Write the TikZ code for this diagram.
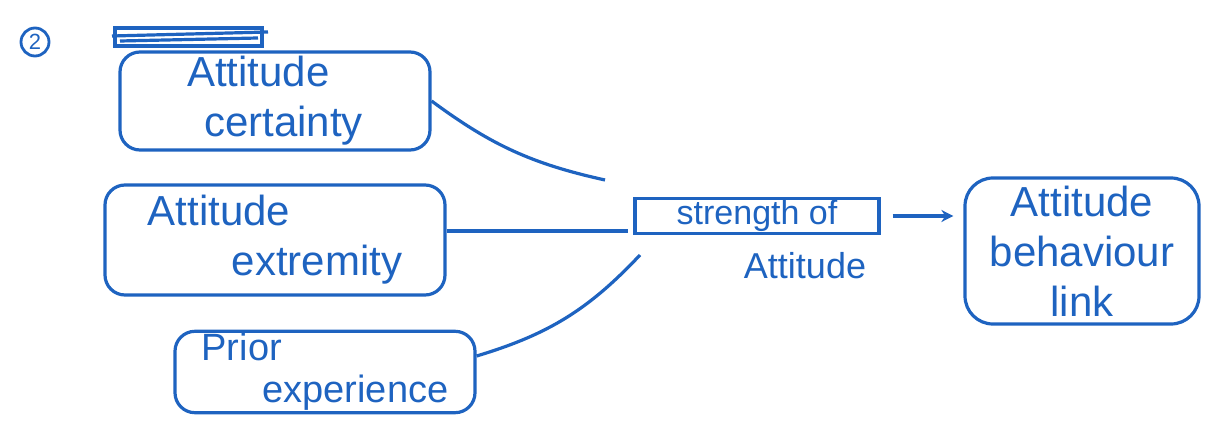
\documentclass[tikz,border=0pt]{standalone}
\usepackage{fontspec}
\setmainfont{Liberation Sans}
\usetikzlibrary{positioning,arrows.meta,shapes.geometric}
\definecolor{ink}{HTML}{1E63C0}
\tikzset{
  >=Stealth,
  every node/.style={text=ink},
  % --- nodes
  factor/.style = {draw=ink, line width=1.6pt, rounded corners=10pt, align=left,
                   inner sep=2pt, font=\fontsize{21}{25}\selectfont},
  target/.style = {factor, align=center, rounded corners=14pt},
  strbox/.style = {draw=ink, line width=1.6pt, inner sep=1pt,
                   font=\fontsize{17}{18}\selectfont},
  lbl/.style    = {font=\fontsize{18}{20}\selectfont},
  num/.style    = {circle, draw=ink, line width=1.4pt, inner sep=1pt,
                   minimum size=14pt, font=\fontsize{11}{12}\selectfont},
  % --- edges
  link/.style   = {draw=ink, line width=1.6pt},
  arr/.style    = {link, -{Stealth[length=6pt,width=6pt]}},
}
\begin{document}
\begin{tikzpicture}[x=0.5pt,y=-0.5pt]
  \useasboundingbox (0,0) rectangle (1215,427);

  % item number
  \node[num] (no) at (35,42) {2};

  % struck-out heading
  \draw[link] (115,28) rectangle (262,46);
  \draw[link] (112,36) -- (268,32);
  \draw[link] (120,41) -- (258,38);

  % factors
  \node[factor, minimum width=155pt, minimum height=49pt] (cert) at (275,101)
    {Attitude\\\hspace*{0.4em}certainty};
  \node[factor, minimum width=170pt, minimum height=55pt] (extr) at (275,240)
    {Attitude\\\hspace*{2em}extremity};
  \node[factor, minimum width=150pt, minimum height=37pt, inner sep=1pt,
        font=\fontsize{19}{21}\selectfont] (prior) at (325,372)
    {Prior\\\hspace*{1.6em}experience};

  % strength and outcome
  \node[strbox, minimum width=122pt, minimum height=16pt] (strength) at (757,216)
    {strength of};
  \node[lbl] (att) at (805,266) {Attitude};
  \node[target, minimum width=117pt, minimum height=73pt] (blink) at (1082,251)
    {Attitude\\behaviour\\link};

  % loose ends near strength box
  \coordinate (j1) at (605,180);
  \coordinate (j2) at (628,231);
  \coordinate (j3) at (640,255);

  \draw[link] (cert.east) to[bend right=12] (j1);
  \draw[link] (extr.east |- j2) -- (j2);
  \draw[link] ([yshift=8pt]prior.east) to[bend right=15] (j3);
  \draw[arr, shorten <=6pt, shorten >=5pt] (strength.east) -- (strength.east -| blink.west);
\end{tikzpicture}
\end{document}
